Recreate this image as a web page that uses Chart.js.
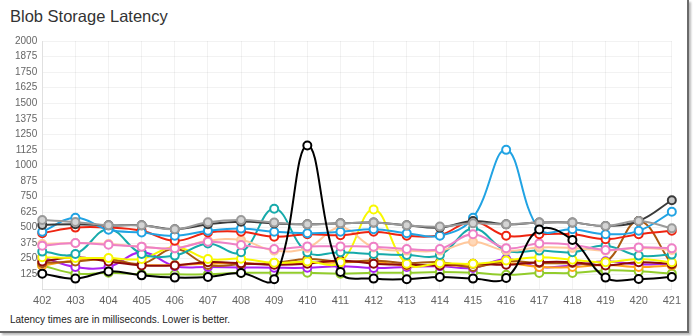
<!DOCTYPE html>
<html>
<head>
<meta charset="utf-8">
<script src="https://cdn.jsdelivr.net/npm/chart.js@4.4.1/dist/chart.umd.min.js"></script>
<style>
  body { margin: 0; background: #fff; font-family: "Liberation Sans", Arial, sans-serif; }
  #frame { position: absolute; left: 0; top: 0; width: 687px; height: 331px; border-right: 2px solid #6a6a6a; border-bottom: 2px solid #6a6a6a; box-shadow: 2px 2px 2px #bbb; }
  #title { position: absolute; left: 10px; top: 7px; font-size: 16.5px; color: #333; }
  #wrap { position: absolute; left: 0; top: 30px; width: 686px; height: 283px; }
  #note { position: absolute; left: 10px; top: 314px; font-size: 10px; color: #222; }
</style>
</head>
<body>
<div id="frame"></div>
<div id="title">Blob Storage Latency</div>
<div id="wrap"><canvas id="chart"></canvas></div>
<div id="note">Latency times are in milliseconds. Lower is better.</div>
<script>
// builds 402 - 421
const builds = ["402", "403", "404", "405", "406", "407", "408", "409", "410", "411",
                "412", "413", "414", "415", "416", "417", "418", "419", "420", "421"];

// latency per build (ms)
const lightGray = [561, 545, 518, 518, 487, 543, 561, 540, 526, 534, 540, 518, 508, 534, 526, 540, 540, 513, 553, 494];
const darkGray  = [521, 527, 518, 518, 487, 527, 548, 534, 526, 534, 540, 518, 500, 553, 526, 540, 540, 513, 553, 720];
const blue      = [466, 579, 482, 460, 434, 474, 492, 466, 455, 466, 487, 455, 434, 579, 1125, 487, 487, 447, 474, 627];
const red       = [455, 500, 500, 474, 394, 460, 466, 426, 447, 439, 466, 434, 439, 550, 434, 447, 447, 407, 447, 474];
const teal      = [307, 288, 487, 288, 275, 372, 302, 651, 302, 302, 288, 280, 280, 492, 315, 315, 302, 355, 275, 283];
const pink      = [355, 376, 362, 347, 333, 386, 360, 328, 349, 349, 347, 328, 328, 447, 335, 373, 362, 320, 341, 333];
const peach     = [368, 376, 368, 347, 333, 394, 400, 315, 336, 500, 341, 315, 315, 386, 315, 341, 336, 315, 336, 320];
const yellow    = [262, 256, 256, 248, 345, 248, 250, 217, 228, 222, 645, 209, 214, 209, 236, 262, 241, 222, 248, 222];
const purple    = [262, 183, 183, 302, 190, 183, 180, 177, 177, 190, 175, 183, 190, 175, 248, 183, 196, 230, 204, 212];
const maroon    = [228, 262, 228, 196, 196, 222, 214, 201, 209, 236, 209, 201, 196, 209, 201, 222, 222, 196, 222, 209];
const brown     = [214, 228, 248, 209, 330, 200, 205, 215, 248, 225, 236, 214, 222, 183, 230, 215, 215, 222, 553, 204];
const orange    = [196, 235, 240, 200, 200, 210, 215, 205, 215, 220, 225, 195, 200, 190, 215, 183, 183, 200, 183, 196];
const green     = [196, 130, 137, 124, 124, 124, 137, 137, 137, 130, 137, 137, 143, 137, 121, 135, 135, 156, 150, 130];
const black     = [130, 90, 148, 116, 98, 103, 135, 85, 1160, 143, 90, 85, 103, 90, 95, 485, 400, 98, 87, 103];

const yTicks = { min: 0, max: 2000, step: 125 };

function series(data, color, fill) {
    return {
        data: data,
        borderColor: color,
        backgroundColor: color,
        pointBackgroundColor: fill || "#fff",
        pointBorderColor: color,
        pointRadius: 4,
        pointBorderWidth: 2,
        borderWidth: 2,
        tension: 0.4,
        fill: false
    };
}

new Chart(document.getElementById("chart"), {
    type: "line",
    data: {
        labels: builds,
        datasets: [
            series(black, "#000"),
            series(lightGray, "#9a9a9a", "#d4d4d4"),
            series(darkGray, "#3a3a3a", "#c8c8c8"),
            series(blue, "#21a3e3"),
            series(red, "#ee2410"),
            series(pink, "#ee80c6"),
            series(peach, "#ffc89c", "#ffd8b8"),
            series(teal, "#16aaaa"),
            series(yellow, "#f8f800"),
            series(maroon, "#8e0a0a"),
            series(brown, "#aa5a10"),
            series(orange, "#ffa31a"),
            series(purple, "#aa22f2"),
            series(green, "#92cc2c")
        ]
    },
    options: {
        responsive: true,
        maintainAspectRatio: false,
        animation: false,
        layout: { padding: { left: 10, right: 14, top: 4, bottom: 0 } },
        plugins: {
            legend: { display: false },
            tooltip: { enabled: false }
        },
        scales: {
            x: {
                offset: false,
                grid: { color: "rgba(0,0,0,0.05)", drawTicks: false },
                border: { color: "rgba(0,0,0,0.08)" },
                ticks: { color: "#666", font: { size: 11, family: "Liberation Sans" }, padding: 5, maxRotation: 0, autoSkip: false }
            },
            y: {
                min: yTicks.min,
                max: yTicks.max,
                grid: { color: "rgba(0,0,0,0.05)", drawTicks: false },
                border: { color: "rgba(0,0,0,0.08)" },
                ticks: {
                    stepSize: yTicks.step,
                    autoSkip: false,
                    color: "#666",
                    font: { size: 10, family: "Liberation Sans" },
                    padding: 5,
                    callback: v => v === 0 ? "" : v
                }
            }
        }
    }
});
</script>
</body>
</html>
